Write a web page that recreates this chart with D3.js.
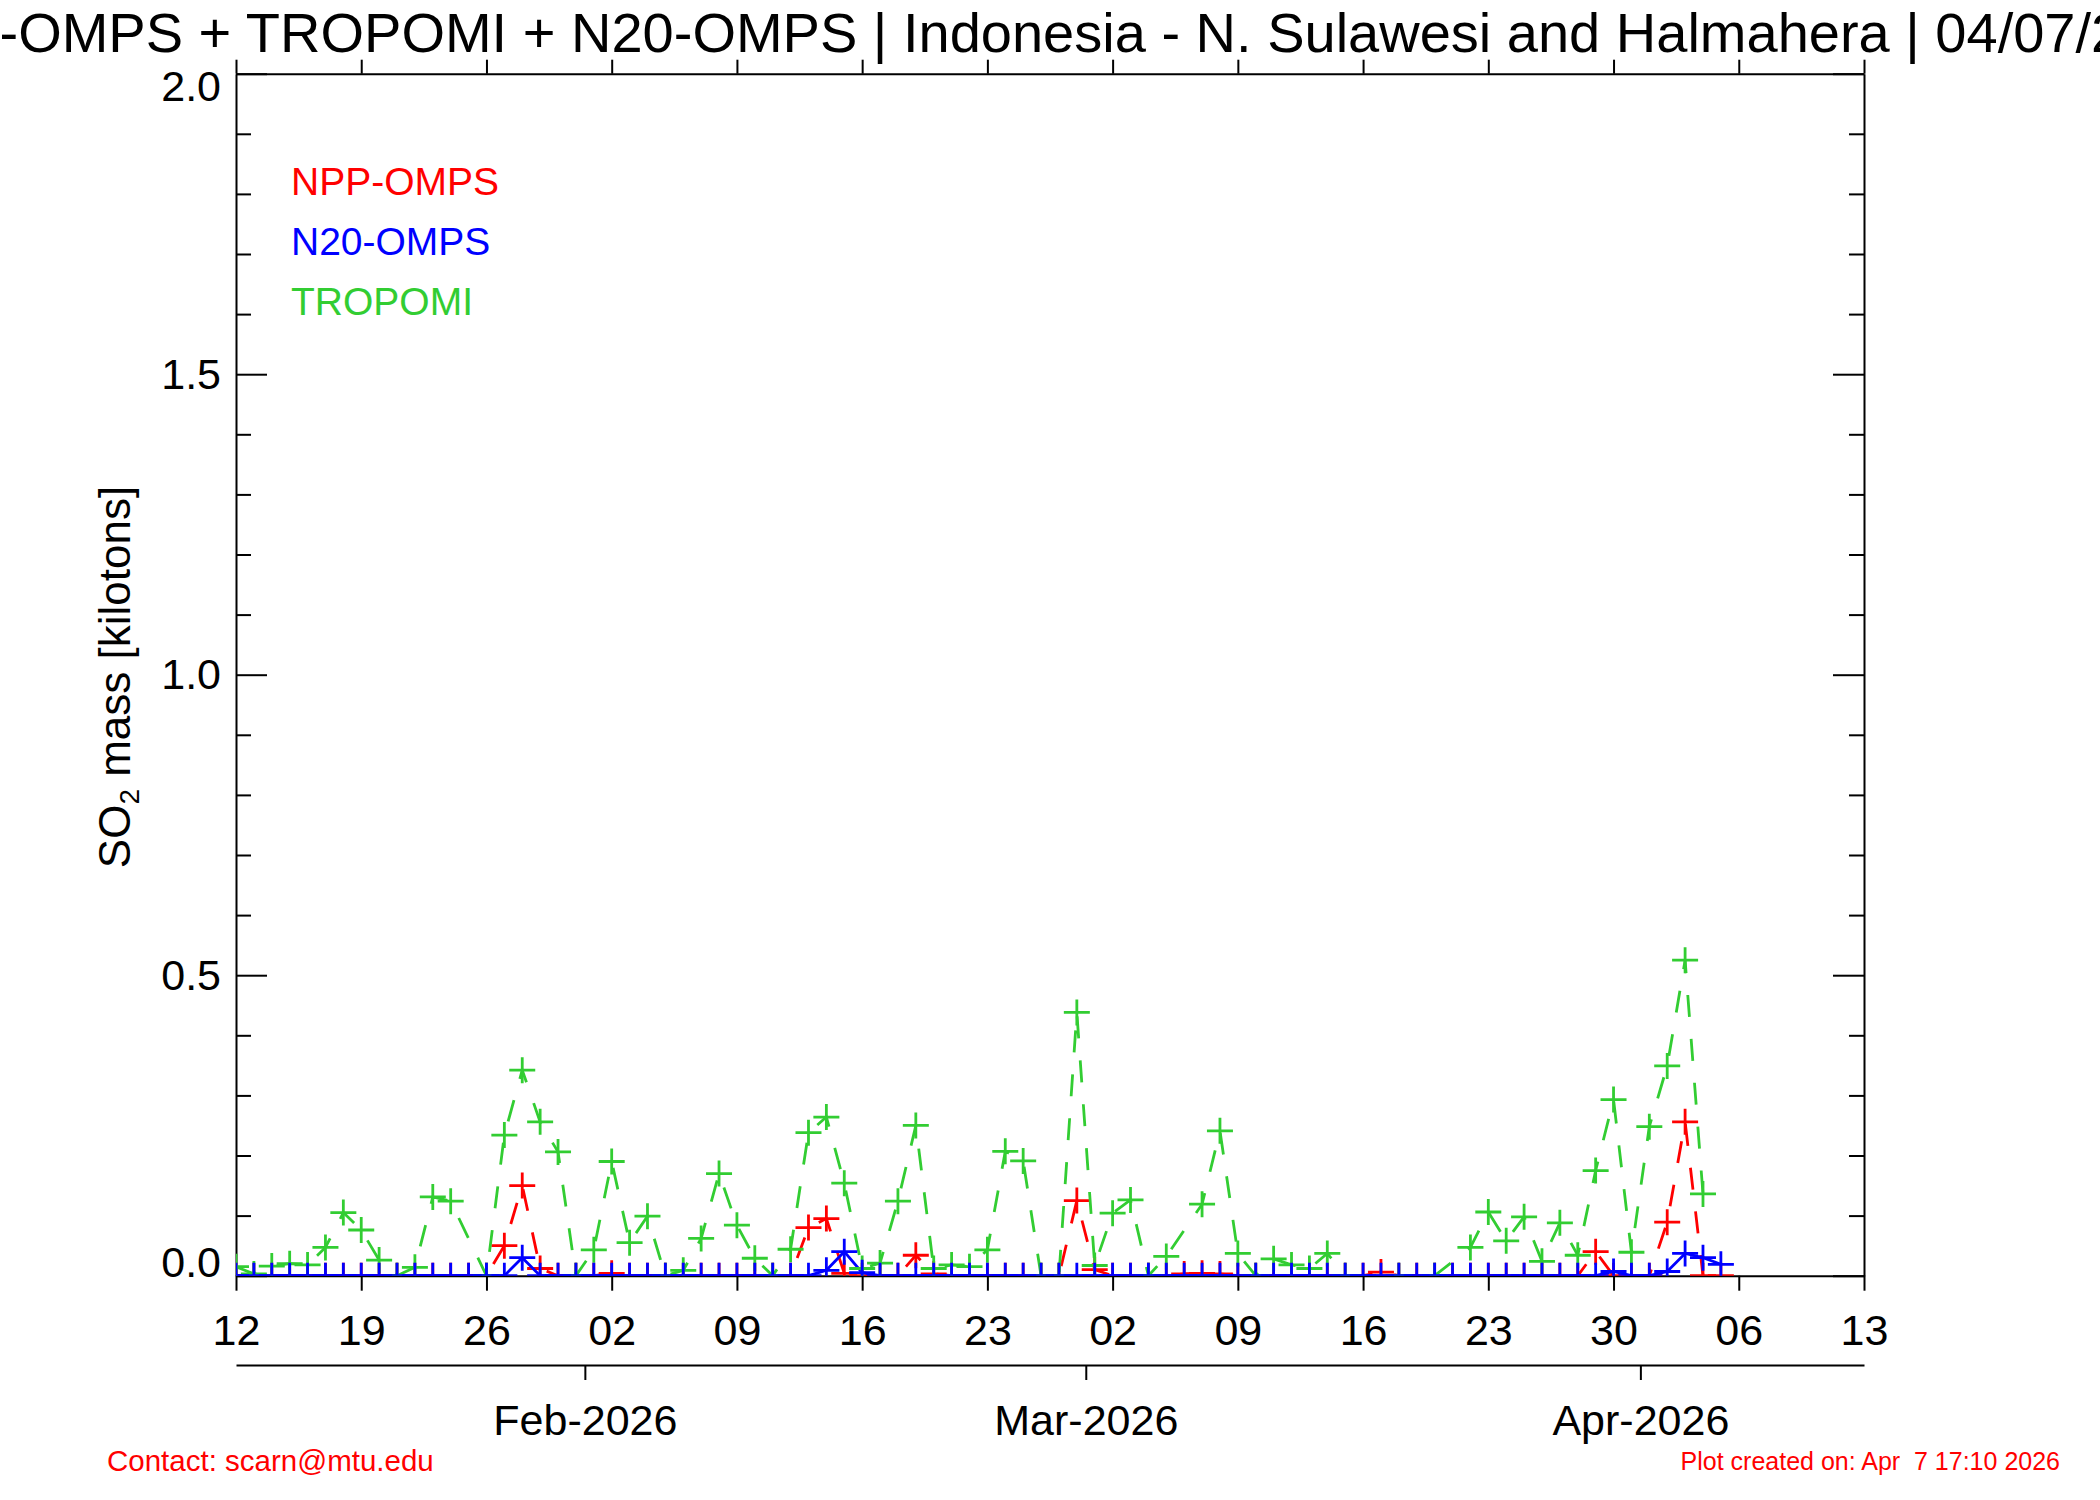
<!DOCTYPE html>
<html>
<head>
<meta charset="utf-8">
<script src="https://cdn.jsdelivr.net/npm/d3@7"></script>
<style>
  html, body { margin: 0; padding: 0; background: #ffffff; }
  text { font-family: "Liberation Sans", Arial, Helvetica, sans-serif; }
</style>
</head>
<body>
<div id="chart"></div>
<script>
// daily series, first value is 12 Jan 2026, null = no retrieval that day
const startDay = Date.UTC(2026, 0, 12);

const nppOmps = [
    0, 0, 0, 0, 0, 0, 0, 0, 0, 0, 0, 0, 0, 0, 0, 0.05, 0.15, 0.012, 0, 0,
    0, 0.004, 0, 0, 0, 0, 0, 0, 0, 0, 0, 0, 0.08, 0.095, 0.004, 0, 0, 0, 0.034, 0.003,
    0, 0, 0, 0, 0, 0, 0, 0.125, 0.01, 0, 0, 0, 0, 0.003, 0.004, 0.003, 0, 0, 0, 0,
    0, 0, 0, 0, 0.006, 0, 0, 0, 0, 0, 0, 0, 0, 0, 0, 0, 0.04, 0, 0, 0,
    0.089, 0.256, 0, 0,
];

const n20Omps = [
    0, 0, 0, 0, 0, 0, 0, 0, 0, 0, 0, 0, 0, 0, 0, 0, 0.03, 0, 0, 0,
    0, 0, 0, 0, 0, 0, 0, 0, 0, 0, 0, 0, 0, 0.009, 0.04, 0.005, 0, 0, 0, 0,
    0, 0, 0, 0, 0, 0, 0, 0, 0, 0, 0, 0, 0, 0, 0, 0, 0, 0, 0, 0,
    0, 0, 0, 0, 0, 0, 0, 0, 0, 0, 0, 0, 0, 0, 0, 0, 0, 0.007, 0, 0,
    0.007, 0.037, 0.03, 0.019,
];

const tropomi = [
    0.015, 0.003, 0.016, 0.02, 0.018, 0.047, 0.105, 0.076, 0.026, 0, 0.014, 0.131, 0.124, null, 0, 0.234, 0.342, 0.256, 0.206, 0,
    0.043, 0.19, 0.055, 0.099, 0, 0.009, 0.062, 0.17, 0.084, 0.029, 0, 0.044, 0.238, 0.264, 0.154, 0.012, 0.021, 0.124, 0.25, 0.012,
    0.018, 0.015, 0.043, 0.207, 0.191, 0, 0, 0.438, 0.017, 0.104, 0.126, 0, 0.032, null, 0.119, 0.241, 0.037, 0, 0.028, 0.018,
    0.012, 0.037, 0, null, null, 0, null, 0, null, 0.047, 0.106, 0.058, 0.098, 0.024, 0.088, 0.034, 0.175, 0.293, 0.039, 0.248,
    0.349, 0.525, 0.136,
];

const yMajorTicks = [0, 0.5, 1.0, 1.5, 2.0];
const yMinorTicks = [0.1, 0.2, 0.3, 0.4, 0.6, 0.7, 0.8, 0.9, 1.1, 1.2, 1.3, 1.4, 1.6, 1.7, 1.8, 1.9];

const series = [
    { name: 'NPP-OMPS', values: nppOmps, color: '#ff0000', dash: '22,22' },
    { name: 'N20-OMPS', values: n20Omps, color: '#0000ff', dash: null },
    { name: 'TROPOMI', values: tropomi, color: '#32cd32', dash: '22,22' },
];

const titleText = 'NPP-OMPS + TROPOMI + N20-OMPS | Indonesia - N. Sulawesi and Halmahera | 04/07/2026';

const width = 2100;
const height = 1500;
const plot = { left: 236, right: 1864, top: 73.7, bottom: 1275.7 };
const font = '"Liberation Sans", Arial, Helvetica, sans-serif';

const x = d3.scaleUtc()
    .domain([new Date(startDay), new Date(Date.UTC(2026, 3, 13))])
    .range([plot.left, plot.right]);
const y = d3.scaleLinear()
    .domain([0, 2])
    .range([plot.bottom, plot.top]);

// weekly ticks counted from the first day (12, 19, 26, 02, ...)
const weekTicks = d3.utcDay.range(new Date(startDay), new Date(Date.UTC(2026, 3, 14)), 7);
// month ticks sit half a day before the 1st, as in the original plot
const monthTicks = [1, 2, 3].map((m) => d3.utcHour.offset(new Date(Date.UTC(2026, m, 1)), -12));
const monthFormat = d3.utcFormat('%b-%Y');

const toPoints = (values) => values
    .map((v, i) => ({ date: d3.utcDay.offset(new Date(startDay), i), v }))
    .filter((d) => d.v !== null);

const svg = d3.select('#chart')
    .append('svg')
    .attr('width', width)
    .attr('height', height)
    .attr('viewBox', `0 0 ${width} ${height}`);

svg.append('rect').attr('width', width).attr('height', height).attr('fill', '#ffffff');

svg.append('defs')
    .append('clipPath')
    .attr('id', 'plot-clip')
    .append('rect')
    .attr('x', plot.left)
    .attr('y', plot.top)
    .attr('width', plot.right - plot.left)
    .attr('height', plot.bottom - plot.top);

function styleAxis(g, fontSize) {
    g.selectAll('path, line').attr('stroke', '#000000').attr('stroke-width', 2);
    g.selectAll('text')
        .attr('fill', '#000000')
        .style('font-family', font)
        .style('font-size', `${fontSize}px`);
}

// bottom axis (day of month)
svg.append('g')
    .attr('transform', `translate(0, ${plot.bottom})`)
    .call(d3.axisBottom(x)
        .tickValues(weekTicks)
        .tickFormat(d3.utcFormat('%d'))
        .tickSize(15)
        .tickSizeOuter(0)
        .tickPadding(24))
    .call((g) => styleAxis(g, 43));

// top axis
svg.append('g')
    .attr('transform', `translate(0, ${plot.top})`)
    .call(d3.axisTop(x)
        .tickValues(weekTicks)
        .tickFormat('')
        .tickSize(14)
        .tickSizeOuter(0))
    .call((g) => styleAxis(g, 43));

// left axis
svg.append('g')
    .attr('transform', `translate(${plot.left}, 0)`)
    .call(d3.axisLeft(y)
        .tickValues(yMajorTicks)
        .tickFormat(d3.format('.1f'))
        .tickSize(-31)
        .tickSizeOuter(0)
        .tickPadding(15))
    .call((g) => styleAxis(g, 43))
    .call((g) => g.selectAll('.tick text')
        .attr('dy', (d) => (d === 0 ? '0.02em' : d === 2 ? '0.62em' : '0.33em')));

svg.append('g')
    .attr('transform', `translate(${plot.left}, 0)`)
    .call(d3.axisLeft(y).tickValues(yMinorTicks).tickFormat('').tickSize(-15))
    .call((g) => g.select('.domain').remove())
    .call((g) => styleAxis(g, 43));

// right axis
svg.append('g')
    .attr('transform', `translate(${plot.right}, 0)`)
    .call(d3.axisRight(y).tickValues(yMajorTicks).tickFormat('').tickSize(-31).tickSizeOuter(0))
    .call((g) => styleAxis(g, 43));

svg.append('g')
    .attr('transform', `translate(${plot.right}, 0)`)
    .call(d3.axisRight(y).tickValues(yMinorTicks).tickFormat('').tickSize(-15))
    .call((g) => g.select('.domain').remove())
    .call((g) => styleAxis(g, 43));

// month axis below
svg.append('g')
    .attr('transform', 'translate(0, 1365)')
    .call(d3.axisBottom(x)
        .tickValues(monthTicks)
        .tickFormat((d) => monthFormat(d3.utcHour.offset(d, 12)))
        .tickSize(15)
        .tickSizeOuter(0)
        .tickPadding(24.5))
    .call((g) => styleAxis(g, 43));

// data
const line = d3.line().x((d) => x(d.date)).y((d) => y(d.v));
const plotArea = svg.append('g').attr('clip-path', 'url(#plot-clip)');

function drawLine(s) {
    plotArea.append('path')
        .datum(toPoints(s.values))
        .attr('d', line)
        .attr('fill', 'none')
        .attr('stroke', s.color)
        .attr('stroke-width', 2.8)
        .attr('stroke-dasharray', s.dash);
}

function drawMarkers(s) {
    plotArea.append('g')
        .selectAll('path')
        .data(toPoints(s.values))
        .join('path')
        .attr('d', (d) => {
            const cx = x(d.date);
            const cy = y(d.v);
            return `M${cx - 13},${cy}H${cx + 13}M${cx},${cy - 13}V${cy + 13}`;
        })
        .attr('fill', 'none')
        .attr('stroke', s.color)
        .attr('stroke-width', 2.8);
}

const [npp, n20, tro] = series;
drawLine(npp);
drawMarkers(npp);
drawLine(tro);
drawLine(n20);
drawMarkers(tro);
drawMarkers(n20);

// legend
svg.append('g')
    .selectAll('text')
    .data(series)
    .join('text')
    .attr('x', 291)
    .attr('y', (_, i) => 195 + i * 60)
    .attr('fill', (d) => d.color)
    .style('font-size', '39px')
    .text((d) => d.name);

// title
svg.append('text')
    .attr('x', 1050)
    .attr('y', 52)
    .attr('text-anchor', 'middle')
    .style('font-size', '56px')
    .text(titleText);

// y axis title
const yTitle = svg.append('text')
    .attr('transform', 'translate(130, 677) rotate(-90)')
    .attr('text-anchor', 'middle')
    .style('font-size', '44px');
yTitle.append('tspan').text('SO');
yTitle.append('tspan').attr('dy', 9).style('font-size', '28px').text('2');
yTitle.append('tspan').attr('dy', -9).text(' mass [kilotons]');

// footer
svg.append('text')
    .attr('x', 107)
    .attr('y', 1471)
    .attr('fill', '#ff0000')
    .style('font-size', '29.5px')
    .text('Contact: scarn@mtu.edu');

svg.append('text')
    .attr('x', 2060)
    .attr('y', 1470)
    .attr('text-anchor', 'end')
    .attr('fill', '#ff0000')
    .style('font-size', '25px')
    .style('white-space', 'pre')
    .text('Plot created on: Apr  7 17:10 2026');
</script>
</body>
</html>
